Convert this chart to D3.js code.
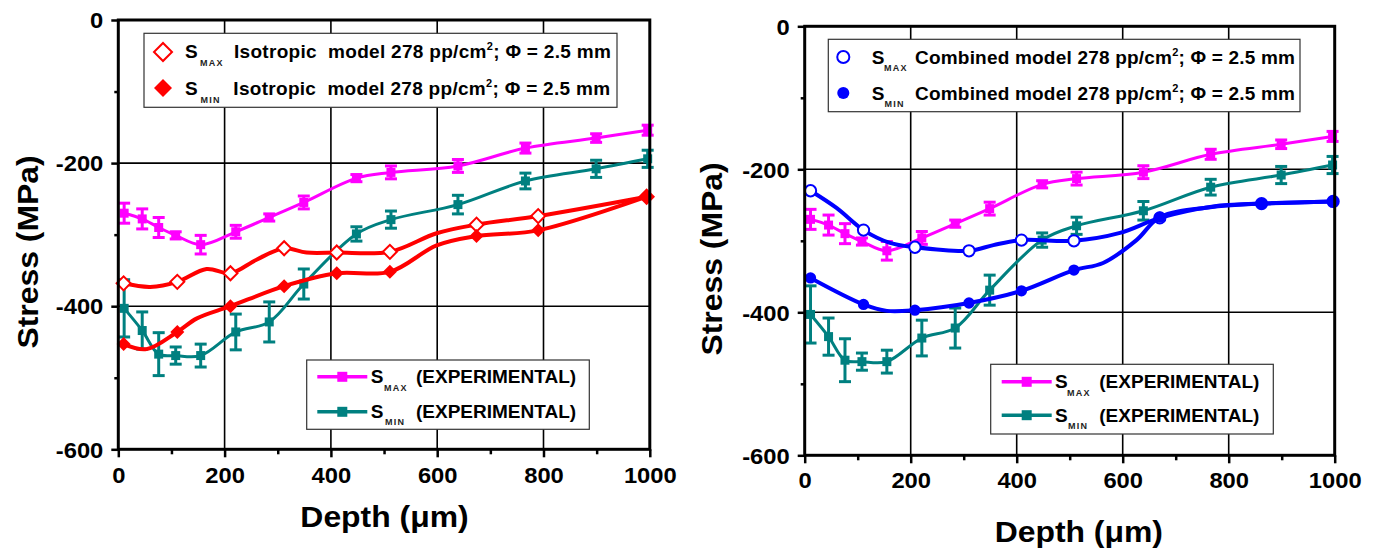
<!DOCTYPE html>
<html>
<head>
<meta charset="utf-8">
<script src="https://cdn.jsdelivr.net/npm/d3@7"></script>
<style>
  body { margin: 0; background: #fff; }
  svg { display: block; }
  text { font-family: "Liberation Sans", Arial, sans-serif; font-weight: bold; fill: #000; white-space: pre; }
</style>
</head>
<body>
<svg id="fig" width="1375" height="552"></svg>
<script>
// ---- axis ticks ----
const depthTicks = [0, 200, 400, 600, 800, 1000];
const depthMinor = [100, 300, 500, 700, 900];
const depthGrid = [200, 400, 600, 800];
const stressTicks = [0, -200, -400, -600];
const stressMinor = [-100, -300, -500];
const stressGrid = [-200, -400];

// ---- experimental measurements (same in both panels) ----
const expDepth  = [11, 45, 76, 108, 155, 221, 284, 349, 448, 513, 639, 766, 899, 996];
const expMax    = [-270, -278, -290, -301, -314, -296, -276, -255, -221, -213, -204, -179, -165, -154];
const expMaxErr = [14, 14, 14, 5, 13, 9, 5, 9, 5, 9, 9, 7, 6, 7];
const expMin    = [-403, -434, -467, -469, -469, -436, -422, -369, -299, -279, -258, -225, -208, -194];
const expMinErr = [40, 26, 30, 12, 16, 25, 28, 21, 10, 12, 13, 11, 12, 12];

// ---- isotropic model (marked points) ----
const isoDepth = [10, 111, 211, 312, 411, 511, 674, 790, 994];
const isoMax   = [-368, -366, -354, -319, -325, -324, -286, -274, -247];
const isoMin   = [-453, -436, -400, -372, -354, -352, -302, -294, -247];
// isotropic model curves (marked points plus intermediate curve points)
const isoMaxCurveDepth  = [10, 60, 111, 166, 211, 260, 312, 354, 411, 511, 599, 674, 790, 994];
const isoMaxCurveStress = [-368, -373, -366, -348, -354, -335, -319, -325, -325, -324, -298, -286, -274, -247];
const isoMinCurveDepth  = [10, 53, 111, 148, 211, 312, 411, 511, 599, 673, 790, 994];
const isoMinCurveStress = [-453, -460, -436, -417, -400, -372, -354, -352, -315, -302, -294, -247];

// ---- combined model (marked points) ----
const combDepth = [11, 111, 208, 310, 409, 508, 670, 862, 997];
const combMax   = [-230, -285, -309, -314, -299, -300, -268, -248, -245];
const combMin   = [-352, -389, -397, -387, -370, -341, -267, -248, -245];
// combined model curves
const combMaxCurveDepth  = [11, 60, 111, 161, 208, 310, 356, 409, 508, 595, 670, 771, 862, 997];
const combMaxCurveStress = [-230, -254, -285, -303, -309, -314, -306, -299, -300, -289, -268, -252, -248, -245];
const combMinCurveDepth  = [11, 111, 155, 208, 310, 409, 508, 563, 626, 670, 765, 862, 997];
const combMinCurveStress = [-352, -389, -398, -397, -387, -370, -341, -331, -299, -267, -253, -248, -245];

const MAGENTA = "#ff00ff", TEAL = "#008080", RED = "#ff0000", BLUE = "#0000ff";

const zip = (a, b) => a.map((v, i) => [v, b[i]]);
const svg = d3.select("#fig");

function drawPanel(cfg) {
  const g = svg.append("g");
  const x = d3.scaleLinear().domain([0, 1000]).range([cfg.left, cfg.right]);
  const y = d3.scaleLinear().domain([0, -600]).range([cfg.top, cfg.bottom]);

  // grid
  g.append("g").selectAll("line").data(depthGrid).join("line")
    .attr("x1", d => x(d)).attr("x2", d => x(d))
    .attr("y1", cfg.top).attr("y2", cfg.bottom)
    .attr("stroke", "#000").attr("stroke-width", 1.6);
  g.append("g").selectAll("line").data(stressGrid).join("line")
    .attr("y1", d => y(d)).attr("y2", d => y(d))
    .attr("x1", cfg.left).attr("x2", cfg.right)
    .attr("stroke", "#000").attr("stroke-width", 1.6);

  const smooth = d3.line().x(d => x(d[0])).y(d => y(d[1])).curve(d3.curveCatmullRom.alpha(0.5));

  // experimental series with error bars
  [[expMax, expMaxErr, MAGENTA], [expMin, expMinErr, TEAL]].forEach(([vals, errs, col]) => {
    const pts = zip(expDepth, vals);
    g.append("path").attr("d", smooth(pts)).attr("fill", "none")
      .attr("stroke", col).attr("stroke-width", 3);
    const eb = g.append("g").attr("stroke", col).attr("stroke-width", 3);
    expDepth.forEach((d, i) => {
      const cx = x(d), y1 = y(vals[i] + errs[i]), y2 = y(vals[i] - errs[i]);
      eb.append("line").attr("x1", cx).attr("x2", cx).attr("y1", y1).attr("y2", y2);
      eb.append("line").attr("x1", cx - 6).attr("x2", cx + 6).attr("y1", y1).attr("y2", y1);
      eb.append("line").attr("x1", cx - 6).attr("x2", cx + 6).attr("y1", y2).attr("y2", y2);
    });
    g.append("g").selectAll("rect").data(pts).join("rect")
      .attr("x", d => x(d[0]) - 4.5).attr("y", d => y(d[1]) - 4.5)
      .attr("width", 9).attr("height", 9).attr("fill", col);
  });

  // model series
  cfg.models.forEach(m => {
    g.append("path").attr("d", smooth(zip(m.curveDepth, m.curveStress)))
      .attr("fill", "none").attr("stroke", m.color).attr("stroke-width", 4);
    const pts = zip(m.depth, m.stress);
    const mk = g.append("g").selectAll("path").data(pts).join("path")
      .attr("transform", d => `translate(${x(d[0])},${y(d[1])})`);
    drawMarker(mk, m.shape, m.open, m.color, false);
  });

  // frame
  g.append("rect").attr("x", cfg.left).attr("y", cfg.top)
    .attr("width", cfg.right - cfg.left).attr("height", cfg.bottom - cfg.top)
    .attr("fill", "none").attr("stroke", "#000").attr("stroke-width", 3);

  // axes
  const styleAxis = sel => {
    sel.select(".domain").remove();
    sel.selectAll(".tick line").attr("stroke", "#000").attr("stroke-width", 2.5);
    sel.selectAll(".tick text").attr("font-size", 22).attr("fill", "#000");
  };
  const xa = g.append("g").attr("transform", `translate(0,${cfg.bottom})`)
    .call(d3.axisBottom(x).tickValues(depthTicks).tickSize(8).tickPadding(cfg.xPad).tickFormat(d => String(d)))
    .call(styleAxis);
  xa.selectAll(".tick text").attr("transform", "scale(1.08,1)");
  g.append("g").attr("transform", `translate(0,${cfg.bottom})`)
    .call(d3.axisBottom(x).tickValues(depthMinor).tickSize(5).tickFormat(""))
    .call(styleAxis);

  const ya = g.append("g").attr("transform", `translate(${cfg.left},0)`)
    .call(d3.axisLeft(y).tickValues(stressTicks).tickSize(7).tickPadding(8).tickFormat(d => String(d)))
    .call(styleAxis);
  ya.selectAll(".tick text").each(function () {
    const t = d3.select(this); const tx = +t.attr("x");
    t.attr("x", 0).attr("dy", "0.35em").attr("transform", `translate(${tx},0) scale(1.08,1)`);
  });
  g.append("g").attr("transform", `translate(${cfg.left},0)`)
    .call(d3.axisLeft(y).tickValues(stressMinor).tickSize(4).tickFormat(""))
    .call(styleAxis);

  // axis titles
  g.append("text").attr("transform", `translate(${cfg.xTitle[0]},${cfg.xTitle[1]}) scale(1.1,1)`)
    .attr("text-anchor", "middle").attr("font-size", 29).text("Depth (\u03bcm)");
  g.append("text").attr("transform", `translate(${cfg.yTitle[0]},${cfg.yTitle[1]}) rotate(-90) scale(1.1,1)`)
    .attr("text-anchor", "middle").attr("font-size", 29).text("Stress (MPa)");

  // legends
  cfg.legends.forEach(lg => drawLegend(g, lg));
}

function drawMarker(sel, shape, open, color, big) {
  if (shape === "diamond") {
    const s = big ? 162 : 98;
    sel.attr("d", d3.symbol(d3.symbolSquare, s)())
      .attr("transform", function () { return (d3.select(this).attr("transform") || "") + " rotate(45)"; });
  } else {
    const s = big ? 115 : 100;
    sel.attr("d", d3.symbol(d3.symbolCircle, s)());
  }
  if (open) sel.attr("fill", "#fff").attr("stroke", color).attr("stroke-width", 2);
  else sel.attr("fill", color);
}

function drawLegend(g, lg) {
  const b = lg.box;
  g.append("rect").attr("x", b[0]).attr("y", b[1]).attr("width", b[2] - b[0]).attr("height", b[3] - b[1])
    .attr("fill", "#fff").attr("stroke", "#333").attr("stroke-width", 1.2);
  lg.rows.forEach(r => {
    if (r.kind === "line") {
      g.append("line").attr("x1", r.lx[0]).attr("x2", r.lx[1]).attr("y1", r.my).attr("y2", r.my)
        .attr("stroke", r.color).attr("stroke-width", 3.5);
      g.append("rect").attr("x", (r.lx[0] + r.lx[1]) / 2 - 5).attr("y", r.my - 5)
        .attr("width", 10).attr("height", 10).attr("fill", r.color);
    } else {
      const mk = g.append("path").attr("transform", `translate(${r.mx},${r.my})`);
      drawMarker(mk, r.shape, r.open, r.color, true);
    }
    g.append("text").attr("x", r.sx).attr("y", r.base).attr("font-size", 19).text("S");
    g.append("text").attr("x", r.subx).attr("y", r.subBase).attr("font-size", 9)
      .attr("letter-spacing", 1.2).attr("fill", "#222").style("fill", "#222").text(r.sub);
    const t = g.append("text").attr("x", r.restX).attr("y", r.base).attr("font-size", 19)
      .attr("letter-spacing", r.ls || 0);
    t.append("tspan").text(r.rest);
    if (r.sup) {
      t.append("tspan").attr("dy", -8).attr("font-size", 11).text(r.sup);
      t.append("tspan").attr("dy", 8).attr("font-size", 19).text(r.tail);
    }
  });
}

const expLegendRows = (lx0, sx, subx, restX, y1, y2) => [
  { kind: "line", color: MAGENTA, lx: [lx0, lx0 + 50], my: y1 - 6.5, sx, base: y1, subx, subBase: y1 + 7.5, sub: "MAX", restX, rest: "(EXPERIMENTAL)" },
  { kind: "line", color: TEAL, lx: [lx0, lx0 + 50], my: y2 - 6.5, sx, base: y2, subx: subx + 1, subBase: y2 + 7, sub: "MIN", restX, rest: "(EXPERIMENTAL)" }
];

drawPanel({
  left: 118.3, right: 649.8, top: 20, bottom: 449.3, xPad: 10.4,
  xTitle: [384.5, 527.3], yTitle: [37.5, 252],
  models: [
    { depth: isoDepth, stress: isoMax, curveDepth: isoMaxCurveDepth, curveStress: isoMaxCurveStress, color: RED, shape: "diamond", open: true },
    { depth: isoDepth, stress: isoMin, curveDepth: isoMinCurveDepth, curveStress: isoMinCurveStress, color: RED, shape: "diamond", open: false }
  ],
  legends: [
    { box: [144, 33.3, 617, 107.3], rows: [
      { kind: "marker", shape: "diamond", open: true, color: RED, mx: 163, my: 52, sx: 185, base: 58.3, subx: 200, subBase: 65.7, sub: "MAX", restX: 234, rest: "Isotropic  model 278 pp/cm", sup: "2", tail: "; \u03a6 = 2.5 mm", ls: 0.3 },
      { kind: "marker", shape: "diamond", open: false, color: RED, mx: 163, my: 88, sx: 185, base: 95, subx: 200.5, subBase: 102.5, sub: "MIN", restX: 233.3, rest: "Isotropic  model 278 pp/cm", sup: "2", tail: "; \u03a6 = 2.5 mm", ls: 0.3 }
    ]},
    { box: [306.7, 360, 589.3, 429.3], rows: expLegendRows(317.3, 370.7, 384, 416, 383.3, 418.3) }
  ]
});

drawPanel({
  left: 804.7, right: 1334.7, top: 26.3, bottom: 455.3, xPad: 8.8,
  xTitle: [1078.8, 541.7], yTitle: [722, 259],
  models: [
    { depth: combDepth, stress: combMax, curveDepth: combMaxCurveDepth, curveStress: combMaxCurveStress, color: BLUE, shape: "circle", open: true },
    { depth: combDepth, stress: combMin, curveDepth: combMinCurveDepth, curveStress: combMinCurveStress, color: BLUE, shape: "circle", open: false }
  ],
  legends: [
    { box: [828.3, 39.3, 1300, 111.7], rows: [
      { kind: "marker", shape: "circle", open: true, color: BLUE, mx: 843.3, my: 57, sx: 871.7, base: 64.3, subx: 884, subBase: 70.7, sub: "MAX", restX: 915, rest: "Combined model 278 pp/cm", sup: "2", tail: "; \u03a6 = 2.5 mm", ls: 0.2 },
      { kind: "marker", shape: "circle", open: false, color: BLUE, mx: 843.3, my: 93, sx: 871.7, base: 100, subx: 884.5, subBase: 107.3, sub: "MIN", restX: 915, rest: "Combined model 278 pp/cm", sup: "2", tail: "; \u03a6 = 2.5 mm", ls: 0.2 }
    ]},
    { box: [990.7, 364.3, 1273.3, 434], rows: expLegendRows(1001.7, 1055, 1067, 1099.3, 388.3, 421.7) }
  ]
});
</script>
</body>
</html>
